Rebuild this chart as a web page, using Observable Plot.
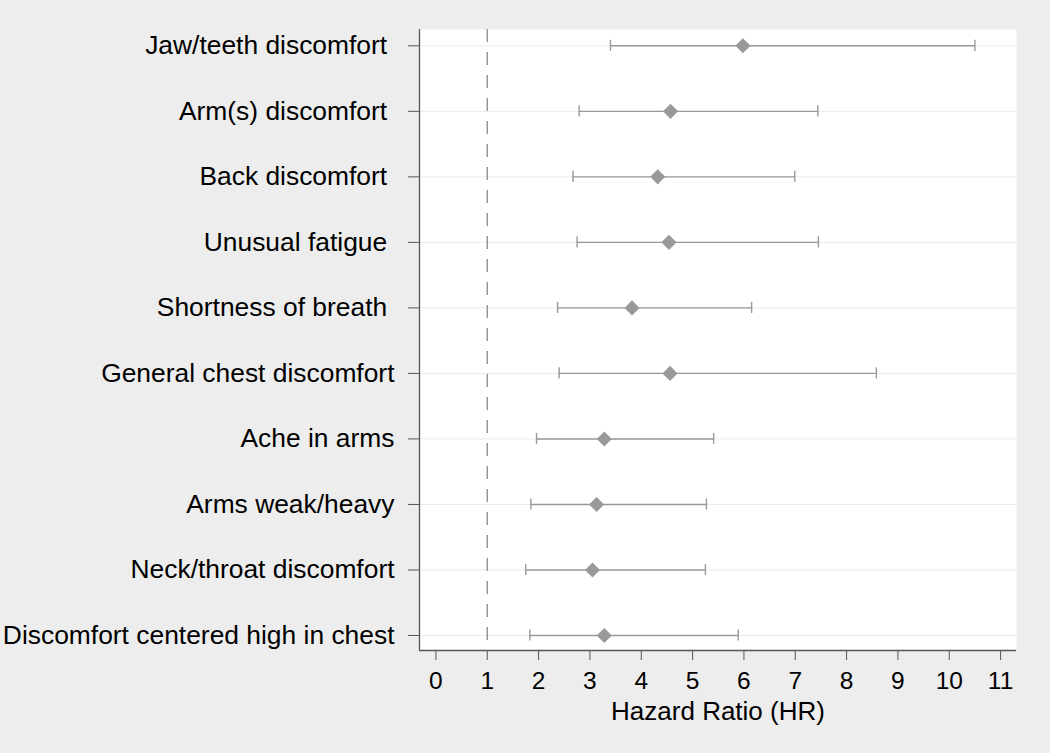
<!DOCTYPE html>
<html><head><meta charset="utf-8">
<script src="https://cdn.jsdelivr.net/npm/d3@7"></script>
<script src="https://cdn.jsdelivr.net/npm/@observablehq/plot@0.6"></script>
<style>
html,body{margin:0;padding:0;background:#ededed;}
#chart svg{display:block;}
</style>
</head><body><div id="chart"></div>
<script>
// Symptom categories (top to bottom); trailing spaces kept as in the original labels
const symptoms = [
  "Jaw/teeth discomfort\u00a0",
  "Arm(s) discomfort\u00a0",
  "Back discomfort\u00a0",
  "Unusual fatigue\u00a0",
  "Shortness of breath\u00a0",
  "General chest discomfort",
  "Ache in arms",
  "Arms weak/heavy",
  "Neck/throat discomfort",
  "Discomfort centered high in chest"
];
const hazardRatio = [5.98, 4.57, 4.32, 4.54, 3.82, 4.56, 3.28, 3.13, 3.05, 3.28];
const ciLow       = [3.40, 2.79, 2.67, 2.75, 2.37, 2.40, 1.96, 1.85, 1.75, 1.83];
const ciHigh      = [10.50, 7.44, 6.99, 7.45, 6.15, 8.58, 5.41, 5.27, 5.25, 5.89];
const xTicks = [0, 1, 2, 3, 4, 5, 6, 7, 8, 9, 10, 11];
const referenceHR = 1;
const xLabel = "Hazard Ratio (HR)";

const data = symptoms.map((s, i) => ({symptom: s, row: i, hr: hazardRatio[i], lo: ciLow[i], hi: ciHigh[i]}));
const rows = data.map(d => d.row);

const capHalf = 0.085; // half height of CI caps in row units
const xDomain = [-0.32, 11.31];
const yDomain = [symptoms.length - 1 + 0.229, -0.249];
const axisColor = "#555";
const markColor = "#999";

const chart = Plot.plot({
  width: 1050,
  height: 753,
  marginLeft: 419,
  marginRight: 34,
  marginTop: 29,
  marginBottom: 103,
  style: {fontFamily: "'Liberation Sans', Arial, sans-serif", background: "#ededed", color: "#000"},
  x: {domain: xDomain},
  y: {domain: yDomain},
  marks: [
    Plot.frame({fill: "white", stroke: null}),
    Plot.ruleY(rows, {y: d => d, stroke: "#ebebeb", strokeWidth: 1}),
    Plot.ruleX([referenceHR], {stroke: "#8a8a8a", strokeWidth: 1.3, strokeDasharray: "13,10"}),
    Plot.ruleY(data, {y: "row", x1: "lo", x2: "hi", stroke: markColor, strokeWidth: 1.4}),
    Plot.ruleX(data, {x: "lo", y1: d => d.row - capHalf, y2: d => d.row + capHalf, stroke: markColor, strokeWidth: 1.4}),
    Plot.ruleX(data, {x: "hi", y1: d => d.row - capHalf, y2: d => d.row + capHalf, stroke: markColor, strokeWidth: 1.4}),
    Plot.dot(data, {x: "hr", y: "row", symbol: "diamond2", r: 6.8, fill: markColor, stroke: null}),
    Plot.ruleX([xDomain[0]], {stroke: axisColor, strokeWidth: 1.3}),
    Plot.ruleY([yDomain[0]], {stroke: axisColor, strokeWidth: 1.3}),
    Plot.axisY({ticks: rows, tickFormat: i => symptoms[i], tickSize: 11, tickPadding: 14, fontSize: 26.4, stroke: axisColor, label: null}),
    Plot.axisX({ticks: xTicks, tickFormat: d => String(d), tickSize: 10, tickPadding: 11, fontSize: 24.5, stroke: axisColor, label: null}),
    Plot.axisX({ticks: [], fontSize: 26, label: xLabel, labelAnchor: "center", labelOffset: 69, labelArrow: false})
  ]
});
document.getElementById("chart").appendChild(chart);
</script>
</body></html>
